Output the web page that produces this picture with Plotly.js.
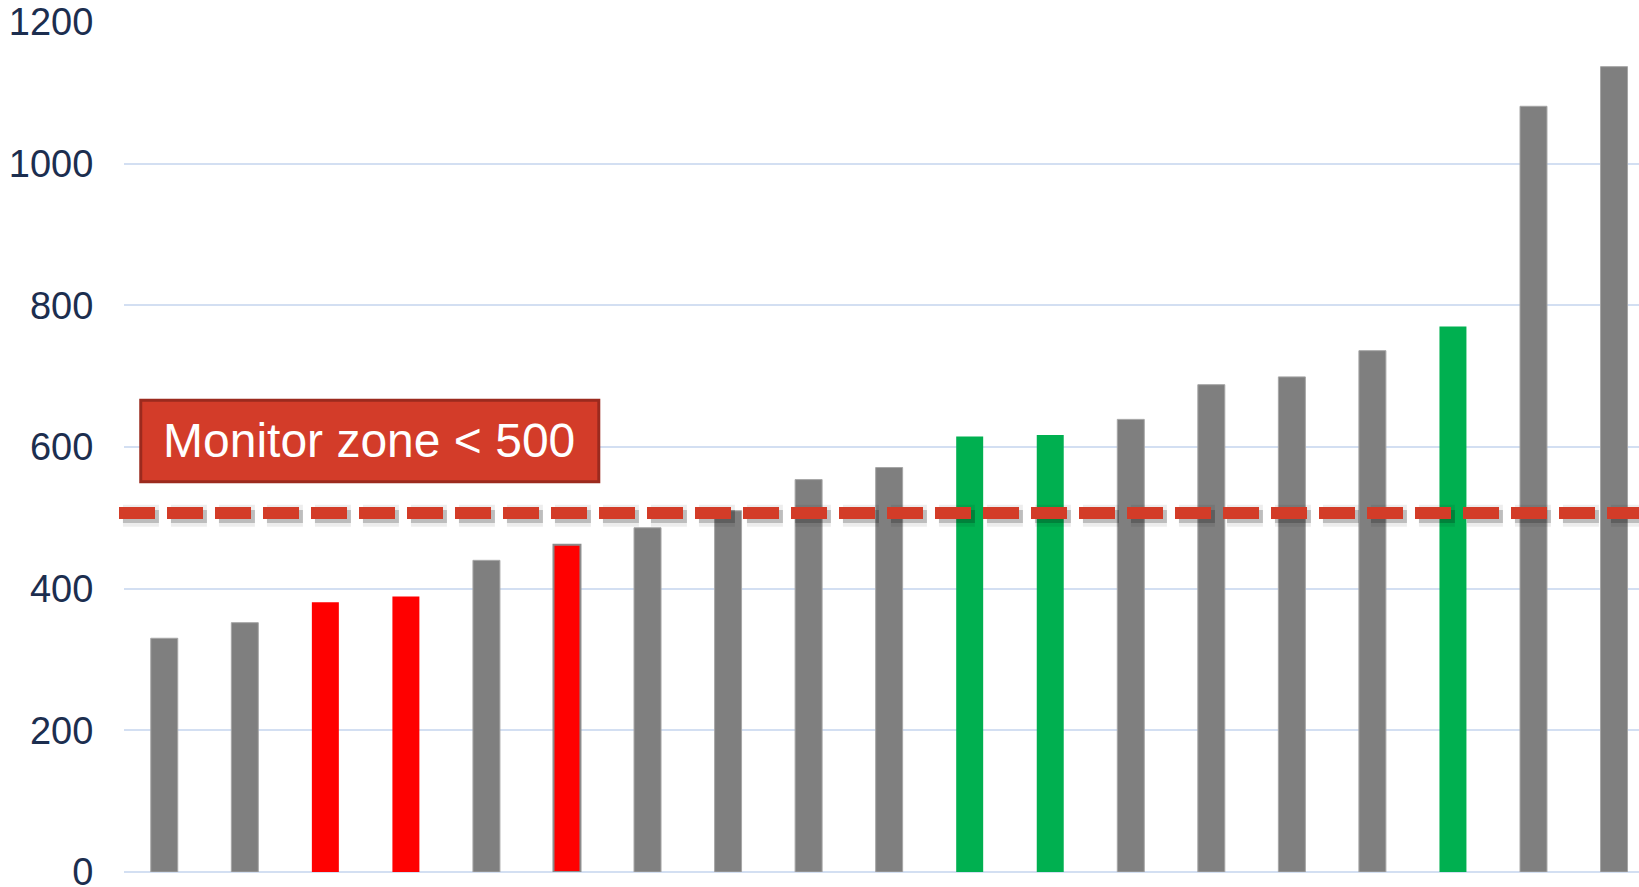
<!DOCTYPE html>
<html>
<head>
<meta charset="utf-8">
<script src="https://cdn.plot.ly/plotly-3.0.1.min.js"></script>
<style>html,body{margin:0;padding:0;background:#fff;}#chart{width:1639px;height:887px;}</style>
</head>
<body>
<div id="chart"></div>
<script>
// Data
const categories = ["1","2","3","4","5","6","7","8","9","10","11","12","13","14","15","16","17","18","19"];
const values = [330, 352, 381, 389, 440, 462, 486, 510, 554, 571, 615, 617, 639, 688, 699, 736, 770, 1081, 1137];
const barColors = ["#7f7f7f","#7f7f7f","#ff0000","#ff0000","#7f7f7f","#ff0000","#7f7f7f","#7f7f7f","#7f7f7f","#7f7f7f","#00b050","#00b050","#7f7f7f","#7f7f7f","#7f7f7f","#7f7f7f","#00b050","#7f7f7f","#7f7f7f"];
const outlineColors = ["#a6a6a6","#a6a6a6","#ff0000","#ff0000","#a6a6a6","#8c8c8c","#a6a6a6","#a6a6a6","#a6a6a6","#a6a6a6","#00b050","#00b050","#a6a6a6","#a6a6a6","#a6a6a6","#a6a6a6","#00b050","#a6a6a6","#a6a6a6"];
const outlineWidths = [1,1,0,0,1,2,1,1,1,1,0,0,1,1,1,1,0,1,1];
const yTicks = [0, 200, 400, 600, 800, 1000, 1200];
const thresholdValue = 507;
const thresholdLabel = "Monitor zone < 500";

const trace = {
  type: "bar",
  x: categories,
  y: values,
  width: 0.335,
  marker: {color: barColors, line: {color: outlineColors, width: outlineWidths}},
  hoverinfo: "y"
};

const layout = {
  width: 1639, height: 887,
  margin: {l: 124, r: 0, t: 22, b: 15, pad: 0},
  paper_bgcolor: "#ffffff",
  plot_bgcolor: "#ffffff",
  showlegend: false,
  bargap: 0.665,
  xaxis: {
    type: "category",
    range: [-0.5, 18.31],
    showticklabels: false,
    showgrid: false,
    zeroline: false,
    showline: false,
    ticks: ""
  },
  yaxis: {
    range: [0, 1200],
    tickvals: yTicks,
    ticktext: yTicks.map(String),
    showgrid: true,
    gridcolor: "#d3dff2",
    gridwidth: 2,
    zeroline: true,
    zerolinecolor: "#d3dff2",
    zerolinewidth: 2,
    showline: false,
    ticks: "outside",
    ticklen: 22,
    tickcolor: "rgba(0,0,0,0)",
    ticklabeloverflow: "allow",
    tickfont: {family: "Liberation Sans, Arial, sans-serif", size: 38, color: "#1c2e4f"}
  },
  shapes: [
    {type: "line", xref: "paper", yref: "y", x0: -0.0007, x1: 1.01, y0: thresholdValue - 4, y1: thresholdValue - 4,
     line: {color: "rgba(0,0,0,0.07)", width: 22, dash: "36px,12px"}, layer: "above"},
    {type: "line", xref: "paper", yref: "y", x0: -0.0007, x1: 1.01, y0: thresholdValue - 5, y1: thresholdValue - 5,
     line: {color: "rgba(0,0,0,0.2)", width: 13, dash: "36px,12px"}, layer: "above"},
    {type: "line", xref: "paper", yref: "y", x0: -0.0033, x1: 1.01, y0: thresholdValue, y1: thresholdValue,
     line: {color: "#d33c28", width: 12, dash: "36px,12px"}, layer: "above"},
    {type: "rect", xref: "x", yref: "y", x0: -0.292, x1: 5.395, y0: 551, y1: 666,
     fillcolor: "#d33c29", line: {color: "#9b2a1e", width: 3}, layer: "above"}
  ],
  annotations: [
    {xref: "x", yref: "y", x: 2.54, y: 609, text: thresholdLabel, showarrow: false,
     font: {family: "Liberation Sans, Arial, sans-serif", size: 48, color: "#ffffff"},
     xanchor: "center", yanchor: "middle"}
  ]
};

Plotly.newPlot("chart", [trace], layout, {displayModeBar: false, staticPlot: true});
</script>
</body>
</html>
